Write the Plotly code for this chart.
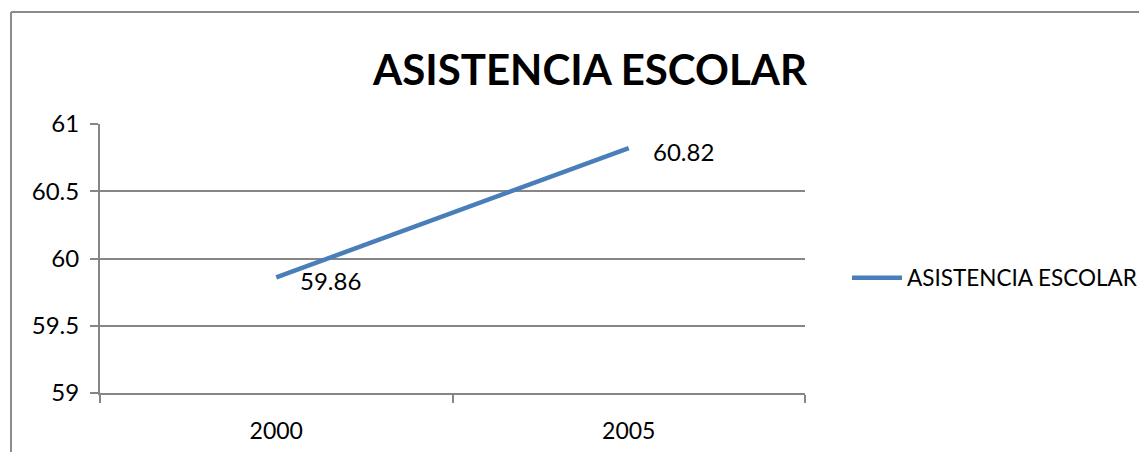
import plotly.graph_objects as go

years = ["2000", "2005"]
values = [59.86, 60.82]
value_labels = ["59.86", "60.82"]
y_ticks = [59, 59.5, 60, 60.5, 61]
y_tick_text = ["59", "59.5", "60", "60.5", "61"]
series_name = "ASISTENCIA ESCOLAR"
title_text = "ASISTENCIA ESCOLAR"

# page has an 8px body margin, so lay the figure out 8px up/left of the target
OFF = 8
W, H = 1147, 452
PX_L, PX_R, PX_T, PX_B = 100, 805, 124, 393  # plot area in page pixels
L, T = PX_L - OFF, PX_T - OFF
R = W - (PX_R - OFF)
B = H - (PX_B - OFF)
pw, ph = W - L - R, H - T - B

FONT = "Lato"
grid = "#868686"

fig = go.Figure()
fig.add_trace(go.Scatter(
    x=years, y=values, mode="lines", name=series_name,
    line=dict(color="#4a7ebb", width=4.5),
    cliponaxis=False,
))

for i, (yv, lab) in enumerate(zip(values, value_labels)):
    fig.add_annotation(x=i, y=yv, xref="x", yref="y", text=lab, showarrow=False,
                       xanchor="left", yanchor="middle", xshift=22, yshift=-3,
                       font=dict(family=FONT, size=24, color="#000000"))

def px_x(x):
    return (x - OFF - L) / pw

def px_y(y):
    return (H - B - (y - OFF)) / ph

fig.update_layout(
    width=W, height=H,
    margin=dict(l=L, r=R, t=T, b=B, autoexpand=False),
    paper_bgcolor="white", plot_bgcolor="white",
    title=dict(text="<b>" + title_text + "</b>", x=(590 - OFF) / W, xanchor="center",
               y=1 - (70 - OFF) / H, yanchor="middle",
               font=dict(family=FONT, size=42, color="#000000")),
    xaxis=dict(type="category", tickson="boundaries", ticks="outside", ticklen=8,
               tickcolor=grid, tickwidth=2, showline=True, linecolor=grid, linewidth=2,
               showgrid=False, tickfont=dict(family=FONT, size=23, color="#000000"),
               ticklabelstandoff=16, range=[-0.5, 1.5], automargin=False),
    yaxis=dict(range=[59, 61], tickvals=y_ticks, ticktext=y_tick_text, ticks="outside",
               ticklen=8, tickcolor=grid, tickwidth=2, showline=True, linecolor=grid,
               linewidth=2, showgrid=True, gridcolor=grid, gridwidth=2, zeroline=False,
               ticklabelstandoff=6, automargin=False,
               tickfont=dict(family=FONT, size=24, color="#000000")),
    showlegend=True,
    legend=dict(x=px_x(847), y=px_y(278), xanchor="left", yanchor="middle",
                font=dict(family=FONT, size=22.5, color="#000000"),
                bgcolor="rgba(0,0,0,0)", itemwidth=50),
)

# chart area border (outer frame)
fig.add_shape(type="line", xref="paper", yref="paper",
              x0=px_x(11), x1=px_x(1170), y0=px_y(12), y1=px_y(12),
              line=dict(color="#8c8c8c", width=2))
fig.add_shape(type="line", xref="paper", yref="paper",
              x0=px_x(11), x1=px_x(11), y0=px_y(12), y1=px_y(480),
              line=dict(color="#8c8c8c", width=2))

fig.write_html("out.html")
